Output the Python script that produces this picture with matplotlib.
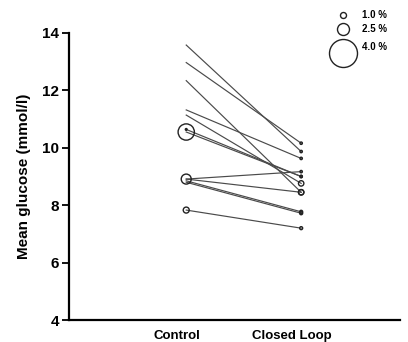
import matplotlib
matplotlib.use("Agg")
import matplotlib.pyplot as plt
import numpy as np

plt.rcParams['font.family'] = ['Liberation Sans', 'DejaVu Sans']
plt.rcParams['font.weight'] = 'bold'

categories = ["Control", "Closed Loop"]
control = [13.58, 12.97, 12.34, 11.32, 11.14, 10.64, 10.55, 8.91, 8.91, 8.85, 8.80, 7.83]
closed_loop = [9.87, 10.16, 8.45, 9.63, 8.76, 9.00, 9.00, 9.17, 8.45, 7.77, 7.72, 7.20]
pct_control = [0.0, 0.0, 0.0, 0.0, 0.0, 0.3, 2.9, 2.0, 0.0, 0.0, 0.0, 1.0]
pct_closed = [0.4, 0.4, 0.9, 0.4, 0.9, 0.4, 0.4, 0.4, 0.9, 0.5, 0.5, 0.5]
legend_pct = [1.0, 2.5, 4.0]
legend_labels = ["1.0 %", "2.5 %", "4.0 %"]
yticks = [4, 6, 8, 10, 12, 14]

ref_pct = [0.0, 1.0, 2.5, 4.0]
ref_diam = [0.0, 6.0, 12.0, 28.0]
DPI = 100


def size_pts2(p):
    d_px = np.interp(p, ref_pct, ref_diam)
    d_pt = d_px * 72.0 / DPI
    return d_pt ** 2


fig = plt.figure(figsize=(4.08, 3.42), dpi=DPI)
ax = fig.add_axes([69 / 408, 1 - 320 / 342, (400 - 69) / 408, (320 - 33) / 342])

x = np.arange(1, len(categories) + 1)
for c, l in zip(control, closed_loop):
    ax.plot(x, [c, l], color="#4a4a4a", lw=0.85, zorder=2)

ax.scatter(np.full(len(control), x[0]), control, s=size_pts2(pct_control),
           facecolors="none", edgecolors="#222222", linewidths=1.0, zorder=3)
ax.scatter(np.full(len(closed_loop), x[1]), closed_loop, s=size_pts2(pct_closed),
           facecolors="none", edgecolors="#222222", linewidths=1.0, zorder=3)

ax.set_xlim(-0.02, 2.86)
ax.set_ylim(4, 14)
ax.set_yticks(yticks)
ax.set_yticklabels([str(v) for v in yticks], fontsize=11, fontweight='bold')
ax.set_xticks(x - 0.08)
ax.set_xticklabels(categories, fontsize=9.5, fontweight='bold')
ax.tick_params(axis='x', length=0, pad=7)
ax.tick_params(axis='y', direction='out', length=5, width=1.3, pad=2)
ax.set_ylabel("Mean glucose (mmol/l)", fontsize=11, fontweight='bold', labelpad=8)

for s in ["top", "right"]:
    ax.spines[s].set_visible(False)
for s in ["left", "bottom"]:
    ax.spines[s].set_linewidth(1.6)

# size legend (figure pixel coordinates)
leg_y = [342 - 15, 342 - 29, 342 - 53]
leg_x = 343
for p, yy in zip(legend_pct, leg_y):
    fig.add_artist(plt.Line2D([leg_x / 408], [yy / 342], marker='o', linestyle='none',
                              markersize=np.sqrt(size_pts2(p)), markerfacecolor='none',
                              markeredgecolor='#222222', markeredgewidth=1.0,
                              transform=fig.transFigure))
leg_text_y = [342 - 15, 342 - 29, 342 - 47]
for lab, yy in zip(legend_labels, leg_text_y):
    fig.text(362 / 408, yy / 342, lab, fontsize=7, fontweight='bold',
             va='center', ha='left')

fig.savefig("out.png", dpi=DPI)
